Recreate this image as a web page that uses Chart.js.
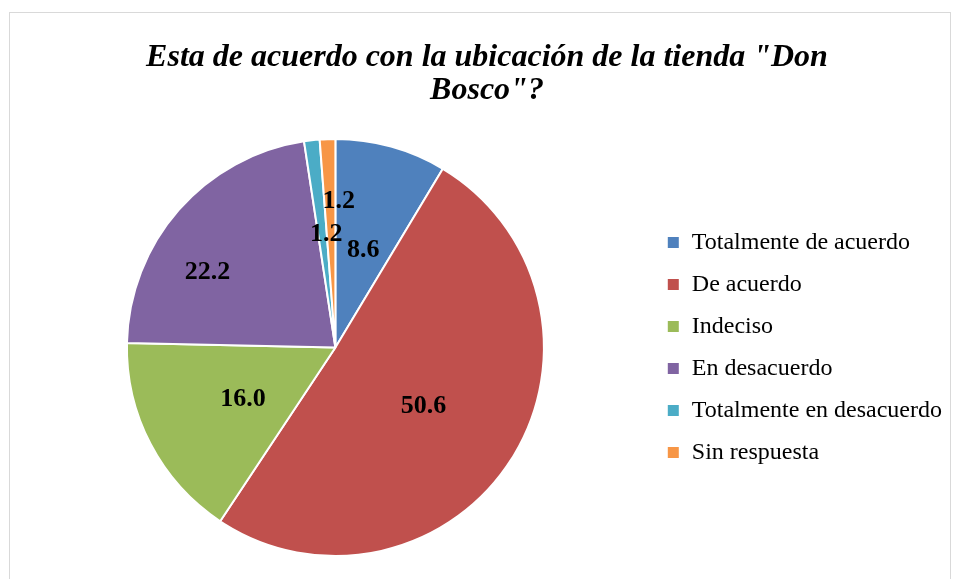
<!DOCTYPE html>
<html>
<head>
    <meta charset="utf-8">
    <title>Ubicación tienda Don Bosco</title>
    <script src="https://cdn.jsdelivr.net/npm/chart.js"></script>
    <style>
        html, body {
            margin: 0;
            padding: 0;
            background: #fff;
            overflow: hidden;
        }
        #wrap {
            position: relative;
            width: 956px;
            height: 579px;
        }
        #frame {
            position: absolute;
            left: 9px;
            top: 12px;
            width: 940px;
            height: 600px;
            border: 1px solid #d9d9d9;
            pointer-events: none;
        }
    </style>
</head>
<body>
    <div id="wrap">
        <canvas id="myChart" width="956" height="579"></canvas>
        <div id="frame"></div>
    </div>

    <script>
        // chart data
        const categorias = ['Totalmente de acuerdo', 'De acuerdo', 'Indeciso', 'En desacuerdo', 'Totalmente en desacuerdo', 'Sin respuesta'];
        const porcentajes = [8.6, 50.6, 16.0, 22.2, 1.2, 1.2];
        const colores = ['#4f81bd', '#c0504d', '#9bbb59', '#8064a2', '#4bacc6', '#f79646'];
        const titulo = ['Esta de acuerdo con la ubicación de la tienda "Don', 'Bosco"?'];

        // where each value label sits: fraction of radius, angle nudge in degrees
        const labelRadio = [0.5, 0.5, 0.5, 0.72, 0.56, 0.715];
        const labelGiro = [0, 0, 0, -9.7, 2, 3.5];

        // draws the numbers inside the slices
        const etiquetas = {
            id: 'etiquetas',
            afterDatasetsDraw(chart) {
                const ctx = chart.ctx;
                const arcs = chart.getDatasetMeta(0).data;
                ctx.save();
                ctx.font = 'bold 26px "Liberation Serif", "Times New Roman", serif';
                ctx.fillStyle = '#000';
                ctx.textAlign = 'center';
                ctx.textBaseline = 'middle';
                arcs.forEach((arc, i) => {
                    const p = arc.getProps(['x', 'y', 'startAngle', 'endAngle', 'outerRadius'], true);
                    const mid = (p.startAngle + p.endAngle) / 2 + labelGiro[i] * Math.PI / 180;
                    const r = p.outerRadius * labelRadio[i];
                    // +3 so the digits (not the em box) sit on the anchor
                    ctx.fillText(porcentajes[i].toFixed(1), p.x + Math.cos(mid) * r, p.y + Math.sin(mid) * r + 3);
                });
                ctx.restore();
            }
        };

        const ctx = document.getElementById('myChart').getContext('2d');
        const myChart = new Chart(ctx, {
            type: 'pie',
            data: {
                labels: categorias,
                datasets: [{
                    data: porcentajes,
                    backgroundColor: colores,
                    borderColor: '#ffffff',
                    borderWidth: 2,
                    hoverOffset: 0
                }]
            },
            options: {
                responsive: false,
                animation: false,
                layout: {
                    padding: { top: 0, bottom: 22, left: 22, right: 4 }
                },
                plugins: {
                    title: {
                        display: true,
                        text: titulo,
                        color: '#000',
                        font: { family: '"Liberation Serif", "Times New Roman", serif', size: 32, weight: 'bold', style: 'italic', lineHeight: '33px' },
                        padding: { top: 41, bottom: 31 }
                    },
                    legend: {
                        position: 'right',
                        fullSize: false,
                        labels: {
                            color: '#000',
                            boxWidth: 13,
                            boxHeight: 13,
                            padding: 18,
                            font: { family: '"Liberation Serif", "Times New Roman", serif', size: 24 }
                        }
                    },
                    tooltip: { enabled: false }
                }
            },
            plugins: [etiquetas]
        });
    </script>
</body>
</html>
